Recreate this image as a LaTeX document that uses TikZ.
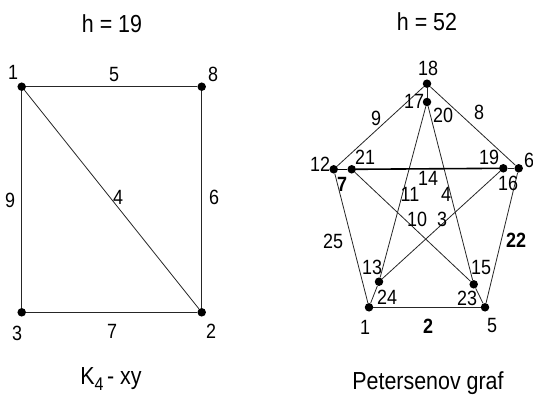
\documentclass[tikz,border=0pt]{standalone}
\usepackage{graphicx}
\usepackage{fontspec}
\setmainfont{Liberation Sans}
\newcommand\vst[1]{\scalebox{1}[1.15]{#1}}
\begin{document}
\begin{tikzpicture}[x=1bp,y=-1bp,
  vtx/.style={circle,fill=black,inner sep=0pt,minimum size=8.5bp},
  edge/.style={line width=0.8bp,draw=black!85},
  thick edge/.style={line width=1.6bp,draw=black},
  lbl/.style={inner sep=0pt,font=\fontsize{18}{20}\selectfont},
  blbl/.style={inner sep=0pt,font=\fontsize{18}{20}\selectfont\bfseries},
  ttl/.style={inner sep=0pt,font=\fontsize{21.5}{24}\selectfont}]
\useasboundingbox (0,0) rectangle (533,398);

% ---------- left graph: K4 - xy ----------
\node[ttl] (t1) at (112,24) {\vst{h = 19}};
\node[vtx] (a1) at (21.7,86.7) {};
\node[vtx] (a8) at (201.7,86.7) {};
\node[vtx] (a3) at (21.7,312.3) {};
\node[vtx] (a2) at (201.7,312.3) {};
\draw[edge] (a1) -- (a8);
\draw[edge] (a1) -- (a3);
\draw[edge] (a1) -- (a2);
\draw[edge] (a8) -- (a2);
\draw[edge] (a3) -- (a2);
\node[lbl] (la1) at (13,72) {\vst{1}};
\node[lbl] (la8) at (213,74) {\vst{8}};
\node[lbl] (la3) at (17,333) {\vst{3}};
\node[lbl] (la2) at (211,331) {\vst{2}};
\node[lbl] (le5) at (114,74) {\vst{5}};
\node[lbl] (le9) at (10,200) {\vst{9}};
\node[lbl] (le4) at (118,197) {\vst{4}};
\node[lbl] (le6) at (214,197) {\vst{6}};
\node[lbl] (le7) at (112,331) {\vst{7}};
\node[ttl] (k4) at (111,379) {\vst{K\raisebox{-0.5ex}{\fontsize{16}{16}\selectfont 4}\,- xy}};

% ---------- right graph: Petersen ----------
\node[ttl] (t2) at (427,22) {\vst{h = 52}};
\node[vtx] (p18) at (427,83.7) {};
\node[vtx] (p17) at (427,102) {};
\node[vtx] (p12) at (333.7,169.3) {};
\node[vtx] (p21) at (351.7,169.3) {};
\node[vtx] (p19) at (503.3,168.3) {};
\node[vtx] (p6) at (518.7,168.3) {};
\node[vtx] (p13) at (379,281.7) {};
\node[vtx] (p15) at (473.7,284.3) {};
\node[vtx] (p1) at (369,307.3) {};
\node[vtx] (p5) at (485,307.3) {};
% outer cycle
\draw[edge] (p18) -- (p12);
\draw[edge] (p18) -- (p6);
\draw[edge] (p12) -- (p1);
\draw[edge] (p6) -- (p5);
\draw[edge] (p1) -- (p5);
% spokes
\draw[edge] (p18) -- (p17);
\draw[thick edge] (p12) -- (p21);
\draw[edge] (p6) -- (p19);
\draw[edge] (p1) -- (p13);
\draw[edge] (p5) -- (p15);
% inner star
\draw[edge] (p17) -- (p13);
\draw[edge] (p17) -- (p15);
\draw[thick edge] (p21) -- (p19);
\draw[edge] (p21) -- (p15);
\draw[edge] (p19) -- (p13);
% vertex labels
\node[lbl] (lp18) at (428,68) {\vst{18}};
\node[lbl] (lp17) at (414,101) {\vst{17}};
\node[lbl] (lp12) at (320,164) {\vst{12}};
\node[lbl] (lp21) at (365,157) {\vst{21}};
\node[lbl] (lp19) at (489,157) {\vst{19}};
\node[lbl] (lp6) at (529,160) {\vst{6}};
\node[lbl] (lp13) at (372,267) {\vst{13}};
\node[lbl] (lp15) at (481,267) {\vst{15}};
\node[lbl] (lp1) at (365,327) {\vst{1}};
\node[lbl] (lp5) at (492,325) {\vst{5}};
% edge labels
\node[lbl] (lq20) at (443,115) {\vst{20}};
\node[lbl] (lq9) at (376,118) {\vst{9}};
\node[lbl] (lq8) at (479,112) {\vst{8}};
\node[blbl] (lq7) at (342,184) {\vst{7}};
\node[lbl] (lq14) at (428,178) {\vst{14}};
\node[lbl] (lq16) at (508,183) {\vst{16}};
\node[lbl] (lq11) at (410,194) {\vst{11}};
\node[lbl] (lq4) at (446,194) {\vst{4}};
\node[lbl] (lq10) at (417,219) {\vst{10}};
\node[lbl] (lq3) at (442,219) {\vst{3}};
\node[lbl] (lq25) at (333,241) {\vst{25}};
\node[blbl] (lq22) at (516,240) {\vst{22}};
\node[lbl] (lq24) at (387,297) {\vst{24}};
\node[lbl] (lq23) at (467,298) {\vst{23}};
\node[blbl] (lq2) at (428,326) {\vst{2}};
\node[ttl] (pg) at (428,383) {\vst{Petersenov graf}};
\end{tikzpicture}
\end{document}
